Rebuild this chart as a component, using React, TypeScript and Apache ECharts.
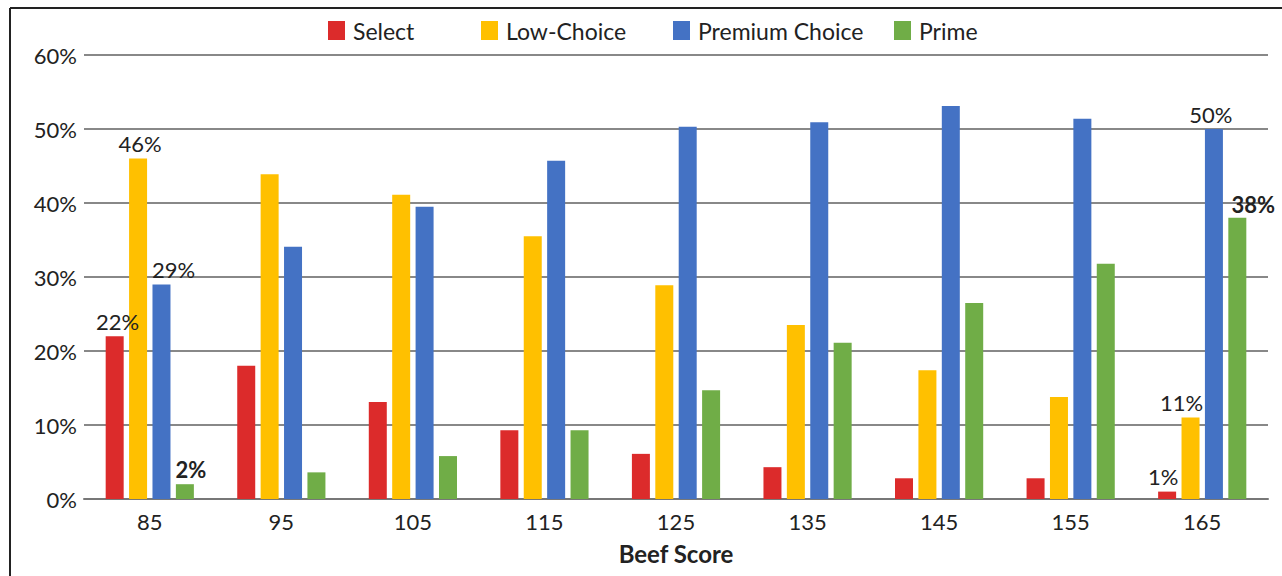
import React, { useEffect, useRef } from "react";
import * as echarts from "echarts";

const categories = ["85", "95", "105", "115", "125", "135", "145", "155", "165"];
const seriesNames = ["Select", "Low-Choice", "Premium Choice", "Prime"];
const selectValues = [22, 18, 13.1, 9.3, 6.1, 4.3, 2.8, 2.8, 1];
const lowChoiceValues = [46, 43.9, 41.1, 35.5, 28.9, 23.5, 17.4, 13.8, 11];
const premiumValues = [29, 34.1, 39.5, 45.7, 50.3, 50.9, 53.1, 51.4, 50];
const primeValues = [2, 3.6, 5.8, 9.3, 14.7, 21.1, 26.5, 31.8, 38];
const colors = ["#DC2B2B", "#FFC000", "#4472C4", "#70AD47"];
const yTicks = [0, 10, 20, 30, 40, 50, 60];

// labelled points: [seriesIndex, categoryIndex, bold, offset]
const labelled: [number, number, boolean, number[]][] = [
  [0, 0, false, [3, 0]],
  [1, 0, false, [2, 0]],
  [2, 0, false, [12, 0]],
  [3, 0, true, [6, 0]],
  [0, 8, false, [-4, 0]],
  [1, 8, false, [-9, 0]],
  [2, 8, false, [-3, 0]],
  [3, 8, true, [16, 2]],
];

const FONT = "Lato";

export default function App() {
  const ref = useRef<HTMLDivElement>(null);
  useEffect(() => {
    if (!ref.current) return;
    const chart = echarts.init(ref.current, null, { renderer: "svg" });
    const all = [selectValues, lowChoiceValues, premiumValues, primeValues];
    const series = all.map((vals, si) => ({
      name: seriesNames[si],
      type: "bar",
      barWidth: 18,
      barGap: "30%",
      itemStyle: { color: colors[si] },
      data: vals.map((v, ci) => {
        const l = labelled.find((x) => x[0] === si && x[1] === ci);
        if (!l) return v;
        return {
          value: v,
          label: {
            show: true,
            position: "top",
            distance: 4,
            offset: l[3],
            formatter: () => `${Math.round(v)}%`,
            fontFamily: FONT,
            fontSize: 22,
            fontWeight: l[2] ? "bold" : "normal",
            color: "#222",
          },
        };
      }),
    }));
    const legendLefts = [323, 476, 668, 889];
    const legends = seriesNames.map((n, i) => ({
      data: [n],
      left: legendLefts[i],
      top: 14,
      itemWidth: 17,
      itemHeight: 19,
      icon: "rect",
      textStyle: { fontFamily: FONT, fontSize: 23, color: "#222", padding: [0, 0, 0, 3] },
    }));
    chart.setOption({
      animation: false,
      legend: legends,
      grid: { left: 84, right: 14, top: 55, bottom: 77, containLabel: false },
      xAxis: {
        type: "category",
        data: categories,
        name: "Beef Score",
        nameLocation: "middle",
        nameGap: 42,
        nameTextStyle: { fontFamily: FONT, fontSize: 24, fontWeight: "bold", color: "#222" },
        axisLine: { lineStyle: { color: "#777", width: 2 } },
        axisTick: { show: false },
        axisLabel: { fontFamily: FONT, fontSize: 22, color: "#222", margin: 11 },
      },
      yAxis: {
        type: "value",
        min: 0,
        max: 60,
        interval: 10,
        axisLine: { show: false },
        axisTick: { show: false },
        axisLabel: {
          fontFamily: FONT,
          fontSize: 22,
          color: "#222",
          margin: 7,
          formatter: (v: number) => (yTicks.includes(v) ? `${v}%` : ""),
        },
        splitLine: { lineStyle: { color: "#888", width: 2 } },
      },
      graphic: [
        { type: "line", shape: { x1: 10, y1: 8, x2: 1282, y2: 8 }, style: { stroke: "#222", lineWidth: 2 } },
        { type: "line", shape: { x1: 10, y1: 8, x2: 10, y2: 576 }, style: { stroke: "#222", lineWidth: 2 } },
      ],
      series,
    });
    return () => chart.dispose();
  }, []);
  return (
    <div
      ref={ref}
      style={{ position: "fixed", left: 0, top: 0, width: 1282, height: 576, background: "#fff" }}
    />
  );
}
